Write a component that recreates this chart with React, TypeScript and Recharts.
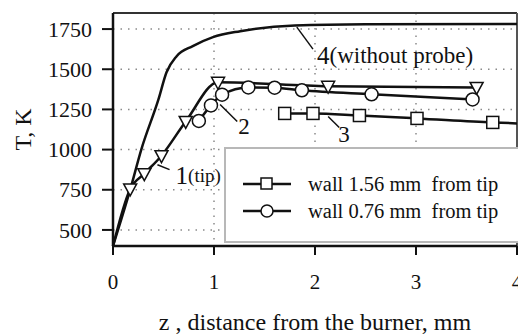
import React from "react";
import {
  LineChart,
  Line,
  XAxis,
  YAxis,
  CartesianGrid,
  Legend,
  ReferenceLine,
  ReferenceDot,
} from "recharts";

// curve 4: flame without probe
const freeZ = [0, 0.17, 0.28, 0.45, 0.53, 0.63, 0.79, 0.99, 1.26, 1.8, 2.5, 4];
const freeT = [400, 750, 1000, 1312, 1481, 1581, 1644, 1700, 1737, 1772, 1780, 1782];

// curve 1: probe tip (first point = line start, no marker)
const tipZ = [0, 0.17, 0.31, 0.48, 0.72, 1.04, 2.13, 3.6];
const tipT = [400, 755, 850, 962, 1175, 1419, 1394, 1387];

// curve 2: wall 0.76 mm from tip
const wall076Z = [0.85, 0.97, 1.08, 1.34, 1.6, 1.87, 2.56, 3.56];
const wall076T = [1178, 1275, 1342, 1387, 1385, 1369, 1344, 1312];

// curve 3: wall 1.56 mm from tip (last point = line end, no marker)
const wall156Z = [1.7, 1.98, 2.44, 3.01, 3.76, 4];
const wall156T = [1225, 1225, 1212, 1194, 1169, 1163];

const xTicks = [0, 1, 2, 3, 4];
const yTicks = [500, 750, 1000, 1250, 1500, 1750];

const legendLabels = ["wall 1.56 mm  from tip", "wall 0.76 mm  from tip"];

const FONT = "'Liberation Serif', 'Times New Roman', serif";
const INK = "#111";

const zip = (zs: number[], ts: number[]) => zs.map((z, i) => ({ z, T: ts[i] }));

const freeData = zip(freeZ, freeT);
const tipData = zip(tipZ, tipT);
const wall076Data = zip(wall076Z, wall076T);
const wall156Data = zip(wall156Z, wall156T);

const Triangle = (props: any) => {
  const { cx, cy, index } = props;
  if (index === 0) return <g key={`t${index}`} />;
  const s = 6.5;
  return (
    <path
      key={`t${index}`}
      d={`M${cx - s},${cy - 5} L${cx + s},${cy - 5} L${cx},${cy + 7} Z`}
      fill="#fff"
      stroke={INK}
      strokeWidth={1.5}
    />
  );
};

const Circle = (props: any) => {
  const { cx, cy, index } = props;
  return <circle key={`c${index}`} cx={cx} cy={cy} r={6.5} fill="#fff" stroke={INK} strokeWidth={1.5} />;
};

const Square = (props: any) => {
  const { cx, cy, index } = props;
  if (index === wall156Z.length - 1) return <g key={`s${index}`} />;
  return (
    <rect key={`s${index}`} x={cx - 6} y={cy - 6} width={12} height={12} fill="#fff" stroke={INK} strokeWidth={1.5} />
  );
};

const XTick = (props: any) => (
  <text x={props.x} y={props.y} dy="0.75em" textAnchor="middle" fontSize={21} fill={INK} style={{ fontFamily: FONT }}>
    {props.payload.value}
  </text>
);

const YTick = (props: any) => (
  <text x={props.x} y={props.y} dy="0.35em" textAnchor="end" fontSize={22} fill={INK} style={{ fontFamily: FONT }}>
    {props.payload.value}
  </text>
);

const note = (parts: { text: string; size: number }[]) => (props: any) => {
  const { x, y } = props.viewBox;
  return (
    <text x={x} y={y} dominantBaseline="central" fill={INK} style={{ fontFamily: FONT }}>
      {parts.map((p, i) => (
        <tspan key={i} fontSize={p.size}>
          {p.text}
        </tspan>
      ))}
    </text>
  );
};

const XLabel = (props: any) => {
  const { x, y, width, height } = props.viewBox;
  return (
    <text x={x + width / 2} y={y + height - 5} textAnchor="middle" fontSize={24} fill={INK} style={{ fontFamily: FONT }}>
      z , distance from the burner, mm
    </text>
  );
};

const YLabel = (props: any) => {
  const { x, y, height } = props.viewBox;
  const cx = x + 23;
  const cy = y + height / 2;
  return (
    <text
      x={cx}
      y={cy}
      transform={`rotate(-90, ${cx}, ${cy})`}
      textAnchor="middle"
      dominantBaseline="central"
      fontSize={24}
      fill={INK}
      style={{ fontFamily: FONT }}
    >
      T, K
    </text>
  );
};

const LegendBox = () => (
  <div
    style={{
      boxSizing: "border-box",
      width: 296,
      height: 96,
      border: "2px solid #b8b8b8",
      background: "#fff",
      position: "relative",
      fontSize: 20.5,
      color: INK,
      fontFamily: FONT,
    }}
  >
    {legendLabels.map((label, i) => (
      <div key={label} style={{ position: "absolute", left: 0, top: 23 + i * 27, height: 24, width: "100%" }}>
        <svg width={52} height={24} style={{ position: "absolute", left: 17, top: 0 }}>
          <line x1={0} y1={12} x2={48} y2={12} stroke={INK} strokeWidth={2.5} />
          {i === 0 ? (
            <rect x={18} y={6} width={11} height={11} fill="#fff" stroke={INK} strokeWidth={1.5} />
          ) : (
            <circle cx={24} cy={12} r={6} fill="#fff" stroke={INK} strokeWidth={1.5} />
          )}
        </svg>
        <span style={{ position: "absolute", left: 82, top: 0, lineHeight: "24px", whiteSpace: "pre" }}>{label}</span>
      </div>
    ))}
  </div>
);

export default function App() {
  return (
    <div style={{ position: "absolute", left: 0, top: 0, background: "#fff" }}>
      <LineChart width={518} height={335} margin={{ top: 13, right: 1, bottom: 0, left: 0 }}>
        <CartesianGrid stroke="#8a8a8a" strokeWidth={1.5} strokeDasharray="1.5 6" />
        <XAxis
          dataKey="z"
          type="number"
          domain={[0, 4]}
          ticks={xTicks}
          interval={0}
          height={89}
          tickSize={9}
          tickMargin={18}
          axisLine={{ stroke: INK, strokeWidth: 2.5 }}
          tickLine={{ stroke: INK, strokeWidth: 2 }}
          tick={XTick}
          label={XLabel}
        />
        <YAxis
          type="number"
          domain={[400, 1850]}
          ticks={yTicks}
          interval={0}
          width={113}
          tickSize={11}
          tickMargin={10}
          axisLine={{ stroke: INK, strokeWidth: 2.5 }}
          tickLine={{ stroke: INK, strokeWidth: 2 }}
          tick={YTick}
          label={YLabel}
        />
        <ReferenceLine y={1850} stroke="#333" strokeWidth={2} />
        <ReferenceLine x={4} stroke="#555" strokeWidth={2} />

        <Line data={freeData} dataKey="T" type="monotone" stroke={INK} strokeWidth={2.5} dot={false} isAnimationActive={false} />
        <Line data={tipData} dataKey="T" type="monotone" stroke={INK} strokeWidth={2.5} dot={Triangle} isAnimationActive={false} />
        <Line data={wall076Data} dataKey="T" type="monotone" stroke={INK} strokeWidth={2.5} dot={Circle} isAnimationActive={false} />
        <Line data={wall156Data} dataKey="T" type="monotone" stroke={INK} strokeWidth={2.5} dot={Square} isAnimationActive={false} />

        <ReferenceLine segment={[{ x: 1.82, y: 1762 }, { x: 1.98, y: 1625 }]} stroke={INK} strokeWidth={1.5} />
        <ReferenceLine segment={[{ x: 1.06, y: 1281 }, { x: 1.23, y: 1175 }]} stroke={INK} strokeWidth={1.5} />
        <ReferenceLine segment={[{ x: 2.13, y: 1206 }, { x: 2.24, y: 1137 }]} stroke={INK} strokeWidth={1.5} />
        <ReferenceLine segment={[{ x: 0.44, y: 906 }, { x: 0.56, y: 875 }]} stroke={INK} strokeWidth={1.5} />

        <ReferenceDot x={2.02} y={1590} r={0} fill="none" stroke="none" label={note([{ text: "4", size: 25 }, { text: "(without probe)", size: 23 }])} />
        <ReferenceDot x={1.24} y={1144} r={0} fill="none" stroke="none" label={note([{ text: "2", size: 23 }])} />
        <ReferenceDot x={2.23} y={1094} r={0} fill="none" stroke="none" label={note([{ text: "3", size: 23 }])} />
        <ReferenceDot x={0.62} y={844} r={0} fill="none" stroke="none" label={note([{ text: "1", size: 25 }, { text: "(tip)", size: 19 }])} />

        <Legend
          layout="vertical"
          align="center"
          verticalAlign="middle"
          content={LegendBox}
          wrapperStyle={{ position: "absolute", left: 224, top: 147, width: 296, height: 96 }}
        />
      </LineChart>
    </div>
  );
}
